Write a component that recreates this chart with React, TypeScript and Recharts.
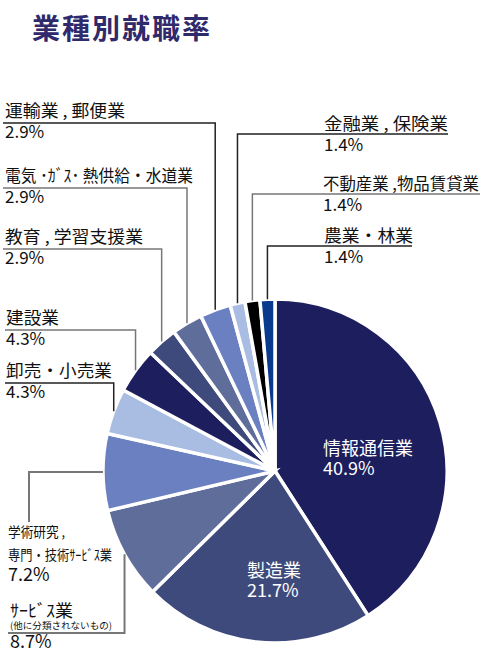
import React from 'react';
import { PieChart, Pie, Cell } from 'recharts';

const categories = [
  '情報通信業',
  '製造業',
  'ｻｰﾋﾞｽ業(他に分類されないもの)',
  '学術研究，専門・技術ｻｰﾋﾞｽ業',
  '卸売・小売業',
  '建設業',
  '教育，学習支援業',
  '電気・ｶﾞｽ・熱供給・水道業',
  '運輸業，郵便業',
  '金融業，保険業',
  '不動産業，物品賃貸業',
  '農業・林業',
];
const shares = [40.9, 21.7, 8.7, 7.2, 4.3, 4.3, 2.9, 2.9, 2.9, 1.4, 1.4, 1.4];
const labelLines: string[][] = [
  ['情報通信業'],
  ['製造業'],
  ['ｻｰﾋﾞｽ業', '(他に分類されないもの)'],
  ['学術研究 ,', '専門・技術ｻｰﾋﾞｽ業'],
  ['卸売・小売業'],
  ['建設業'],
  ['教育 , 学習支援業'],
  ['電気 ･ｶﾞｽ･ 熱供給・水道業'],
  ['運輸業 , 郵便業'],
  ['金融業 , 保険業'],
  ['不動産業 ,物品賃貸業'],
  ['農業・林業'],
];
const title = '業種別就職率';

const colors = [
  '#1c1e5e', '#3e4a7b', '#5f6d9b', '#6a80c0', '#a9bce2', '#1c1e5e',
  '#3e4a7b', '#5f6d9b', '#6a80c0', '#a9bce2', '#000000', '#0a3a8e',
];

const FONT = '"Noto Sans CJK JP", "Noto Sans", sans-serif';
const RAD = Math.PI / 180;

type Lay = any;
const layout: Lay[] = [
  { kind: 'inside', dx: 48, dy: -16 },
  { kind: 'inside', dx: -28, dy: 106 },
  { kind: 'downLeft', lineY: 633, x0: 8, tx: 10, color: '#777', w: [63, 102] },
  { kind: 'leftDown', lineX: 29, endY: 522, tx: 8, color: '#777', w: [57, 104] },
  { kind: 'upLeft', lineY: 383, x0: 5, tx: 6, color: '#222', w: 106 },
  { kind: 'upLeft', lineY: 330, x0: 5, tx: 6, color: '#777', w: 53 },
  { kind: 'upLeft', lineY: 249, x0: 3, tx: 5, color: '#777', w: 138 },
  { kind: 'upLeft', lineY: 188, x0: 3, tx: 5, color: '#777', w: 188 },
  { kind: 'upLeft', lineY: 123, x0: 3, tx: 5, color: '#222', w: 120 },
  { kind: 'upRight', lineY: 134, x1: 448, tx: 324, color: '#222', w: 124 },
  { kind: 'upRight', lineY: 194, x1: 480, tx: 323, color: '#777', w: 156 },
  { kind: 'upRight', lineY: 246, x1: 412, tx: 324, color: '#222', w: 89 },
];

const data = categories.map((name, i) => ({ name, value: shares[i] }));

function renderLabel(props: any) {
  const { cx, cy, midAngle, outerRadius, index, value } = props;
  const lay = layout[index];
  const lines = labelLines[index];
  const pct = `${Number(value).toFixed(1)}%`;
  const ax = cx + outerRadius * Math.cos(-midAngle * RAD);
  const ay = cy + outerRadius * Math.sin(-midAngle * RAD);
  const key = `lbl-${index}`;
  if (lay.kind === 'inside') {
    const x = cx + lay.dx;
    const y = cy + lay.dy;
    return (
      <g key={key}>
        <text x={x} y={y} fill="#fff" fontSize={18} fontFamily={FONT}>{lines[0]}</text>
        <text x={x} y={y + 20} fill="#fff" fontSize={18} fontFamily={FONT}>{pct}</text>
      </g>
    );
  }
  if (lay.kind === 'upLeft') {
    return (
      <g key={key}>
        <path d={`M${ax},${ay}V${lay.lineY}H${lay.x0}`} fill="none" stroke={lay.color} strokeWidth={1.5} />
        <text x={lay.tx} y={lay.lineY - 6} fill="#111" fontSize={16.5} fontFamily={FONT}
          textLength={lay.w} lengthAdjust="spacingAndGlyphs">{lines[0]}</text>
        <text x={lay.tx} y={lay.lineY + 15} fill="#111" fontSize={17} fontFamily={FONT}>{pct}</text>
      </g>
    );
  }
  if (lay.kind === 'upRight') {
    return (
      <g key={key}>
        <path d={`M${ax},${ay}V${lay.lineY}H${lay.x1}`} fill="none" stroke={lay.color} strokeWidth={1.5} />
        <text x={lay.tx} y={lay.lineY - 4} fill="#111" fontSize={16.5} fontFamily={FONT}
          textLength={lay.w} lengthAdjust="spacingAndGlyphs">{lines[0]}</text>
        <text x={lay.tx} y={lay.lineY + 17} fill="#111" fontSize={17} fontFamily={FONT}>{pct}</text>
      </g>
    );
  }
  if (lay.kind === 'leftDown') {
    return (
      <g key={key}>
        <path d={`M${ax},${ay}H${lay.lineX}V${lay.endY}`} fill="none" stroke={lay.color} strokeWidth={2} />
        <text x={lay.tx} y={lay.endY + 15} fill="#111" fontSize={14} fontFamily={FONT}
          textLength={lay.w[0]} lengthAdjust="spacingAndGlyphs">{lines[0]}</text>
        <text x={lay.tx} y={lay.endY + 38} fill="#111" fontSize={14} fontFamily={FONT}
          textLength={lay.w[1]} lengthAdjust="spacingAndGlyphs">{lines[1]}</text>
        <text x={lay.tx} y={lay.endY + 59} fill="#111" fontSize={18} fontFamily={FONT}>{pct}</text>
      </g>
    );
  }
  // downLeft
  return (
    <g key={key}>
      <path d={`M${ax},${ay}V${lay.lineY}H${lay.x0}`} fill="none" stroke={lay.color} strokeWidth={2} />
      <text x={lay.tx} y={lay.lineY - 16} fill="#111" fontSize={17} fontFamily={FONT}
        textLength={lay.w[0]} lengthAdjust="spacingAndGlyphs">{lines[0]}</text>
      <text x={lay.tx} y={lay.lineY - 4} fill="#111" fontSize={9.5} fontFamily={FONT}
        textLength={lay.w[1]} lengthAdjust="spacingAndGlyphs">{lines[1]}</text>
      <text x={lay.tx} y={lay.lineY + 15} fill="#111" fontSize={18} fontFamily={FONT}>{pct}</text>
    </g>
  );
}

export default function App() {
  return (
    <div style={{ position: 'absolute', left: 0, top: 0, width: 500, height: 660, background: '#fff' }}>
      <PieChart width={500} height={660} margin={{ top: 0, right: 0, bottom: 0, left: 0 }}>
        <Pie
          data={data}
          dataKey="value"
          nameKey="name"
          cx={275}
          cy={471}
          outerRadius={172}
          startAngle={90}
          endAngle={-270}
          stroke="#fff"
          strokeWidth={3.5}
          label={renderLabel}
          labelLine={false}
          isAnimationActive={false}
        >
          {data.map((d, i) => (
            <Cell key={d.name} fill={colors[i]} />
          ))}
        </Pie>
      </PieChart>
      <svg width={500} height={60} style={{ position: 'absolute', left: 0, top: 0 }}>
        <text x={32} y={39} fill="#2f2a6b" fontSize={28} fontWeight="bold" letterSpacing={2} fontFamily={FONT}>{title}</text>
      </svg>
    </div>
  );
}
